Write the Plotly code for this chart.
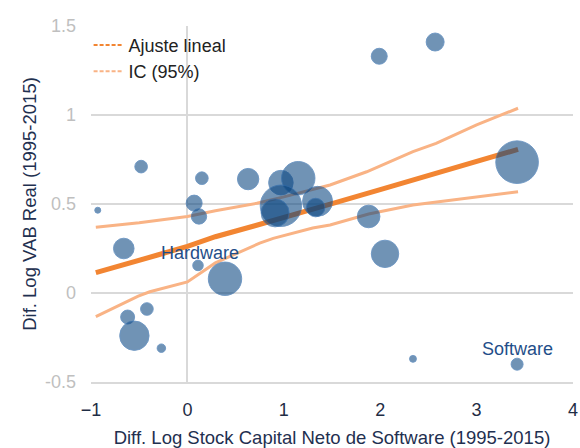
import plotly.graph_objects as go

# --- Data ---
software_dlog = [-0.93, -0.48, -0.66, -0.62, -0.42, -0.55, -0.27, 0.07, 0.12, 0.15, 0.11, 0.39,
                 0.63, 0.97, 1.15, 0.97, 0.91, 1.35, 1.33, 1.88, 2.05, 1.99, 2.57, 3.42, 2.34, 3.42]
vab_dlog = [0.465, 0.71, 0.25, -0.135, -0.09, -0.24, -0.31, 0.505, 0.43, 0.645, 0.155, 0.08,
            0.64, 0.62, 0.645, 0.49, 0.45, 0.515, 0.48, 0.43, 0.22, 1.33, 1.41, 0.735, -0.37, -0.40]
peso = [9, 40, 106, 49, 40, 216, 18, 64, 59, 40, 28, 279,
        114, 151, 279, 428, 196, 225, 86, 128, 188, 64, 81, 454, 12, 36]

fit_x = [-0.95, -0.5, -0.3, 0.0, 0.29, 0.7, 1.0, 1.5, 2.0, 2.5, 3.0, 3.43]
fit_y = [0.114, 0.180, 0.215, 0.262, 0.316, 0.378, 0.423, 0.502, 0.581, 0.661, 0.741, 0.807]

ci_up_x = [-0.95, -0.5, 0.0, 0.29, 0.72, 1.0, 1.48, 1.86, 2.34, 2.58, 3.0, 3.43]
ci_up_y = [0.369, 0.395, 0.430, 0.462, 0.504, 0.540, 0.607, 0.681, 0.794, 0.841, 0.944, 1.038]

ci_lo_x = [-0.95, -0.51, -0.39, 0.0, 0.29, 0.75, 0.89, 1.30, 1.48, 1.88, 2.34, 3.43]
ci_lo_y = [-0.133, -0.017, 0.007, 0.062, 0.169, 0.280, 0.307, 0.365, 0.382, 0.444, 0.494, 0.569]

labels_text = ["Hardware", "Software"]
labels_x = [0.134, 3.42]
labels_y = [0.225, -0.315]

x_ticks = [-1, 0, 1, 2, 3, 4]
y_ticks = [-0.5, 0, 0.5, 1, 1.5]

FONT = "Liberation Sans, Arial, sans-serif"
ORANGE = "#f28532"
ORANGE_LIGHT = "#f9b385"

fig = go.Figure()

# confidence interval lines (drawn behind bubbles)
fig.add_trace(go.Scatter(x=ci_up_x, y=ci_up_y, mode="lines",
                         line=dict(color=ORANGE_LIGHT, width=3), showlegend=False, hoverinfo="skip"))
fig.add_trace(go.Scatter(x=ci_lo_x, y=ci_lo_y, mode="lines",
                         line=dict(color=ORANGE_LIGHT, width=3), showlegend=False, hoverinfo="skip"))
fig.add_trace(go.Scatter(x=fit_x, y=fit_y, mode="lines",
                         line=dict(color=ORANGE, width=5), showlegend=False, hoverinfo="skip"))

# bubbles
fig.add_trace(go.Scatter(
    x=software_dlog, y=vab_dlog, mode="markers", showlegend=False,
    marker=dict(size=peso, sizemode="area", sizeref=0.5,
                color="rgba(8,68,128,0.82)",
                line=dict(color="rgba(45,105,170,0.9)", width=1)),
))

# legend entries (dashed)
fig.add_trace(go.Scatter(x=[None], y=[None], mode="lines", name="Ajuste lineal",
                         line=dict(color=ORANGE, width=2, dash="4px,2px")))
fig.add_trace(go.Scatter(x=[None], y=[None], mode="lines", name="IC (95%)",
                         line=dict(color=ORANGE_LIGHT, width=2, dash="4px,2px")))

for t, xx, yy in zip(labels_text, labels_x, labels_y):
    fig.add_annotation(x=xx, y=yy, text=t, showarrow=False,
                       font=dict(family=FONT, size=18, color="#1f4e89"))

fig.update_layout(
    width=580, height=448,
    margin=dict(l=91, r=7, t=26, b=66),
    paper_bgcolor="white", plot_bgcolor="white",
    font=dict(family=FONT),
    legend=dict(x=-0.005, y=0.998, xanchor="left", yanchor="top",
                bgcolor="rgba(0,0,0,0)", font=dict(size=18, color="#222222"),
                tracegroupgap=0),
)
fig.update_xaxes(range=[-1, 4], tickvals=x_ticks, showgrid=False, automargin=False,
                 zeroline=True, zerolinecolor="#d9d9d9", zerolinewidth=2,
                 showline=True, linecolor="#d9d9d9", linewidth=2,
                 ticks="", ticklabelstandoff=10,
                 tickfont=dict(size=18, color="#1f2d45"),
                 title=dict(text="Diff. Log Stock Capital Neto de Software (1995-2015)",
                            font=dict(size=18.5, color="#1f3050"), standoff=20))
fig.update_yaxes(range=[-0.5, 1.5], tickvals=y_ticks, ticktext=["-0.5", "0", "0.5", "1", "1.5"],
                 showgrid=True, gridcolor="#d9d9d9", gridwidth=2, zeroline=False, automargin=False,
                 ticks="", ticklabelstandoff=14,
                 tickfont=dict(size=18, color="#bfbfbf"),
                 title=dict(text="Dif. Log VAB Real (1995-2015)",
                            font=dict(size=18.5, color="#1f3050"), standoff=3))

fig.write_html("out.html", config={"displayModeBar": False},
               post_script="document.body.style.margin='0';")
